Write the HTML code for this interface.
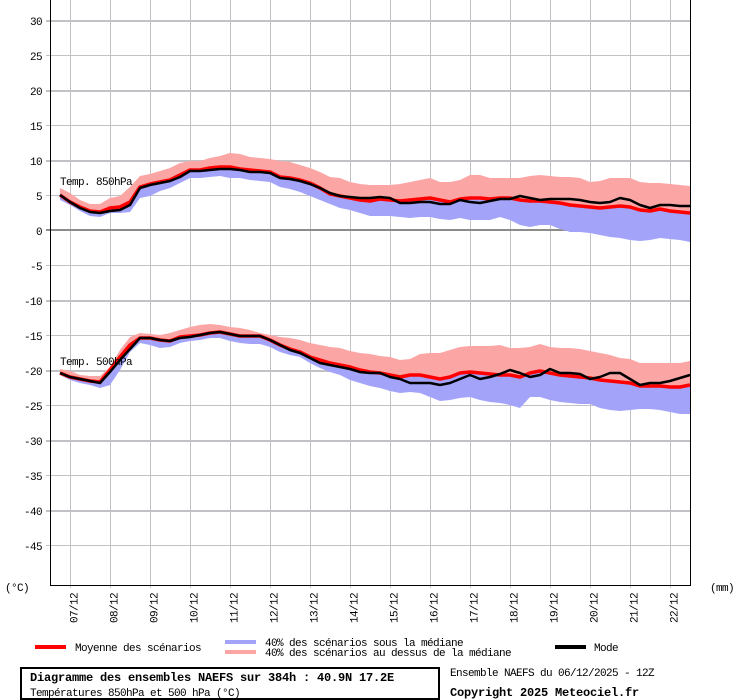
<!DOCTYPE html>
<html><head><meta charset="utf-8"><style>
html,body{margin:0;padding:0;background:#fff;}
svg{display:block;}
text{font-family:"Liberation Mono","DejaVu Sans Mono",monospace;font-size:11px;letter-spacing:-0.6px;fill:#000;}
.b{font-weight:bold;font-size:12px;letter-spacing:-0.2px;}
</style></head><body>
<svg width="740" height="700" viewBox="0 0 740 700" xmlns="http://www.w3.org/2000/svg">
<rect x="0" y="0" width="740" height="700" fill="#fff"/>
<g shape-rendering="crispEdges" fill="#c3c1c6">
<!-- vertical grid -->
<rect x="70" y="0" width="1" height="588"/><rect x="110" y="0" width="1" height="588"/><rect x="150" y="0" width="1" height="588"/><rect x="190" y="0" width="1" height="588"/>
<rect x="230" y="0" width="1" height="588"/><rect x="270" y="0" width="1" height="588"/><rect x="310" y="0" width="1" height="588"/><rect x="350" y="0" width="1" height="588"/>
<rect x="390" y="0" width="1" height="588"/><rect x="430" y="0" width="1" height="588"/><rect x="470" y="0" width="1" height="588"/><rect x="510" y="0" width="1" height="588"/>
<rect x="550" y="0" width="1" height="588"/><rect x="590" y="0" width="1" height="588"/><rect x="630" y="0" width="1" height="588"/><rect x="670" y="0" width="1" height="588"/>
<!-- horizontal grid: thick at multiples of 10 -->
<rect x="46" y="20" width="644" height="2"/><rect x="46" y="90" width="644" height="2"/><rect x="46" y="160" width="644" height="2"/>
<rect x="46" y="300" width="644" height="2"/><rect x="46" y="370" width="644" height="2"/><rect x="46" y="440" width="644" height="2"/><rect x="46" y="510" width="644" height="2"/>
<!-- thin -->
<rect x="46" y="55" width="644" height="1"/><rect x="46" y="125" width="644" height="1"/><rect x="46" y="195" width="644" height="1"/><rect x="46" y="265" width="644" height="1"/>
<rect x="46" y="335" width="644" height="1"/><rect x="46" y="405" width="644" height="1"/><rect x="46" y="475" width="644" height="1"/><rect x="46" y="545" width="644" height="1"/>
</g>
<rect x="46" y="229" width="644" height="2" fill="#8c8c8c" shape-rendering="crispEdges"/>

<!-- 850 hPa bands -->
<polygon fill="#fca5a5" points="60,188 70,193 80,200 90,204 100,204 110,198 120,196 130,187 140,176 150,174 160,171 170,168 180,163 190,161 200,161 210,158 220,156 230,153 240,154 250,157 260,158 270,159 280,161 290,162 300,165 310,168 320,172 330,177 340,178 350,182 360,184 370,185 380,185 390,185 400,184 410,182 420,180 430,178 440,182 450,182 460,180 470,175 480,175 490,178 500,178 510,178 520,178 530,176 540,175 550,176 560,177 570,177 580,178 590,182 600,181 610,178 620,178 630,178 640,182 650,183 660,183 670,184 680,185 690,186 690,213 680,212 670,211 660,209 650,211 640,210 630,207 620,206 610,207 600,208 590,207 580,206 570,205 560,203 550,202 540,201 530,201 520,200 510,198 500,198 490,199 480,198 470,198 460,199 450,202 440,200 430,198 420,199 410,200 400,201 390,200 380,199 370,201 360,200 350,198 340,196 330,194 320,188 310,183 300,180 290,178 280,177 270,172 260,171 250,170 240,169 230,167 220,167 210,168 200,170 190,170 180,175 170,180 160,182 150,184 140,187 130,202 120,207 110,208 100,212 90,211 80,207 70,202 60,195"/>
<polygon fill="#a3a3fa" points="60,195 70,202 80,207 90,211 100,212 110,208 120,207 130,202 140,187 150,184 160,182 170,180 180,175 190,170 200,170 210,168 220,167 230,167 240,169 250,170 260,171 270,172 280,177 290,178 300,180 310,183 320,188 330,194 340,196 350,198 360,200 370,201 380,199 390,200 400,201 410,200 420,199 430,198 440,200 450,202 460,199 470,198 480,198 490,199 500,198 510,198 520,200 530,201 540,201 550,202 560,203 570,205 580,206 590,207 600,208 610,207 620,206 630,207 640,210 650,211 660,209 670,211 680,212 690,213 690,242 680,240 670,239 660,238 650,240 640,241 630,240 620,238 610,237 600,235 590,233 580,232 570,232 560,229 550,225 540,225 530,227 520,225 510,220 500,217 490,220 480,220 470,220 460,218 450,220 440,219 430,217 420,217 410,218 400,217 390,216 380,216 370,216 360,213 350,210 340,208 330,204 320,200 310,196 300,192 290,189 280,187 270,182 260,181 250,180 240,178 230,178 220,176 210,177 200,178 190,178 180,183 170,188 160,191 150,196 140,198 130,212 120,213 110,213 100,217 90,216 80,211 70,205 60,200"/>

<!-- 500 hPa bands -->
<polygon fill="#fca5a5" points="60,369 70,371 80,375 90,376 100,376 110,367 120,350 130,337 140,333 150,334 160,335 170,333 180,330 190,327 200,325 210,324 220,325 230,327 240,328 250,330 260,333 270,335 280,337 290,338 300,340 310,343 320,345 330,347 340,348 350,351 360,353 370,354 380,356 390,357 400,360 410,359 420,354 430,353 440,353 450,350 460,347 470,346 480,346 490,346 500,345 510,348 520,348 530,347 540,344 550,347 560,348 570,348 580,349 590,351 600,353 610,355 620,358 630,359 640,363 650,363 660,363 670,363 680,363 690,361 690,385 680,387 670,387 660,386 650,386 640,386 630,383 620,382 610,381 600,380 590,378 580,377 570,376 560,375 550,373 540,371 530,373 520,377 510,375 500,375 490,374 480,373 470,372 460,373 450,377 440,379 430,377 420,375 410,375 400,377 390,375 380,373 370,372 360,370 350,367 340,365 330,363 320,360 310,357 300,352 290,349 280,345 270,340 260,336 250,336 240,336 230,334 220,332 210,333 200,335 190,336 180,337 170,341 160,340 150,338 140,338 130,345 120,357 110,370 100,382 90,381 80,379 70,377 60,373"/>
<polygon fill="#a3a3fa" points="60,373 70,377 80,379 90,381 100,382 110,370 120,357 130,345 140,338 150,338 160,340 170,341 180,337 190,336 200,335 210,333 220,332 230,334 240,336 250,336 260,336 270,340 280,345 290,349 300,352 310,357 320,360 330,363 340,365 350,367 360,370 370,372 380,373 390,375 400,377 410,375 420,375 430,377 440,379 450,377 460,373 470,372 480,373 490,374 500,375 510,375 520,377 530,373 540,371 550,373 560,375 570,376 580,377 590,378 600,380 610,381 620,382 630,383 640,386 650,386 660,386 670,387 680,387 690,385 690,414 680,414 670,412 660,410 650,409 640,409 630,410 620,411 610,410 600,408 590,404 580,404 570,403 560,402 550,400 540,397 530,397 520,408 510,405 500,403 490,402 480,400 470,397 460,398 450,400 440,401 430,397 420,393 410,392 400,393 390,391 380,388 370,386 360,383 350,380 340,375 330,372 320,368 310,363 300,357 290,355 280,352 270,347 260,344 250,344 240,343 230,341 220,338 210,338 200,340 190,341 180,343 170,347 160,348 150,345 140,343 130,352 120,370 110,385 100,388 90,385 80,383 70,380 60,375"/>

<!-- mean lines -->
<polyline fill="none" stroke="#ff0000" stroke-width="3.5" stroke-linejoin="round" points="60,195 70,202 80,207 90,211 100,212 110,208 120,207 130,202 140,187 150,184 160,182 170,180 180,175 190,170 200,170 210,168 220,167 230,167 240,169 250,170 260,171 270,172 280,177 290,178 300,180 310,183 320,188 330,194 340,196 350,198 360,200 370,201 380,199 390,200 400,201 410,200 420,199 430,198 440,200 450,202 460,199 470,198 480,198 490,199 500,198 510,198 520,200 530,201 540,201 550,202 560,203 570,205 580,206 590,207 600,208 610,207 620,206 630,207 640,210 650,211 660,209 670,211 680,212 690,213"/>
<polyline fill="none" stroke="#ff0000" stroke-width="3.5" stroke-linejoin="round" points="60,373 70,377 80,379 90,381 100,382 110,370 120,357 130,345 140,338 150,338 160,340 170,341 180,337 190,336 200,335 210,333 220,332 230,334 240,336 250,336 260,336 270,340 280,345 290,349 300,352 310,357 320,360 330,363 340,365 350,367 360,370 370,372 380,373 390,375 400,377 410,375 420,375 430,377 440,379 450,377 460,373 470,372 480,373 490,374 500,375 510,375 520,377 530,373 540,371 550,373 560,375 570,376 580,377 590,378 600,380 610,381 620,382 630,383 640,386 650,386 660,386 670,387 680,387 690,385"/>
<!-- mode lines -->
<polyline fill="none" stroke="#000" stroke-width="2.5" stroke-linejoin="round" points="60,195 70,202 80,208 90,212 100,213 110,211 120,210 130,205 140,188 150,185 160,183 170,181 180,177 190,171 200,171 210,170 220,169 230,169 240,170 250,172 260,172 270,173 280,178 290,179 300,181 310,184 320,188 330,193 340,196 350,197 360,198 370,198 380,197 390,198 400,203 410,203 420,202 430,202 440,204 450,204 460,200 470,202 480,203 490,201 500,199 510,199 520,196 530,198 540,200 550,199 560,199 570,199 580,200 590,202 600,203 610,202 620,198 630,200 640,205 650,208 660,205 670,205 680,206 690,206"/>
<polyline fill="none" stroke="#000" stroke-width="2.5" stroke-linejoin="round" points="60,373 70,377 80,379 90,381 100,383 110,372 120,360 130,349 140,338 150,338 160,340 170,341 180,338 190,337 200,335 210,333 220,332 230,334 240,336 250,336 260,336 270,340 280,345 290,350 300,353 310,358 320,363 330,365 340,367 350,369 360,372 370,373 380,373 390,377 400,379 410,383 420,383 430,383 440,385 450,383 460,379 470,375 480,379 490,377 500,374 510,370 520,373 530,377 540,375 550,369 560,373 570,373 580,374 590,379 600,377 610,373 620,373 630,379 640,385 650,383 660,383 670,381 680,378 690,375"/>

<!-- axes -->
<g shape-rendering="crispEdges" fill="#000">
<rect x="50" y="0" width="1" height="586"/>
<rect x="690" y="0" width="1" height="586"/>
<rect x="50" y="585" width="641" height="1"/>
</g>

<!-- series labels -->
<text x="60" y="185">Temp. 850hPa</text>
<text x="60" y="365">Temp. 500hPa</text>

<!-- y labels -->
<g text-anchor="end">
<text x="42" y="25">30</text><text x="42" y="60">25</text><text x="42" y="95">20</text><text x="42" y="130">15</text>
<text x="42" y="165">10</text><text x="42" y="200">5</text><text x="42" y="235">0</text><text x="42" y="270">-5</text>
<text x="42" y="305">-10</text><text x="42" y="340">-15</text><text x="42" y="375">-20</text><text x="42" y="410">-25</text>
<text x="42" y="445">-30</text><text x="42" y="480">-35</text><text x="42" y="515">-40</text><text x="42" y="550">-45</text>
</g>
<text x="5" y="591">(°C)</text>
<text x="710" y="591">(mm)</text>

<!-- date labels -->
<g>
<text transform="translate(77.5,623) rotate(-90)">07/12</text>
<text transform="translate(117.5,623) rotate(-90)">08/12</text>
<text transform="translate(157.5,623) rotate(-90)">09/12</text>
<text transform="translate(197.5,623) rotate(-90)">10/12</text>
<text transform="translate(237.5,623) rotate(-90)">11/12</text>
<text transform="translate(277.5,623) rotate(-90)">12/12</text>
<text transform="translate(317.5,623) rotate(-90)">13/12</text>
<text transform="translate(357.5,623) rotate(-90)">14/12</text>
<text transform="translate(397.5,623) rotate(-90)">15/12</text>
<text transform="translate(437.5,623) rotate(-90)">16/12</text>
<text transform="translate(477.5,623) rotate(-90)">17/12</text>
<text transform="translate(517.5,623) rotate(-90)">18/12</text>
<text transform="translate(557.5,623) rotate(-90)">19/12</text>
<text transform="translate(597.5,623) rotate(-90)">20/12</text>
<text transform="translate(637.5,623) rotate(-90)">21/12</text>
<text transform="translate(677.5,623) rotate(-90)">22/12</text>
</g>

<!-- legend -->
<g shape-rendering="crispEdges">
<rect x="35" y="645" width="31" height="4" fill="#ff0000"/>
<rect x="225" y="640" width="31" height="4" fill="#a3a3fa"/>
<rect x="225" y="650" width="31" height="4" fill="#fca5a5"/>
<rect x="555" y="645" width="31" height="4" fill="#000"/>
</g>
<text x="75" y="651">Moyenne des scénarios</text>
<text x="265" y="646">40% des scénarios sous la médiane</text>
<text x="265" y="656">40% des scénarios au dessus de la médiane</text>
<text x="594" y="651">Mode</text>

<!-- info box -->
<rect x="21" y="668" width="418" height="31" fill="none" stroke="#000" stroke-width="2"/>
<text class="b" x="30" y="681">Diagramme des ensembles NAEFS sur 384h : 40.9N 17.2E</text>
<text x="30" y="696">Températures 850hPa et 500 hPa (°C)</text>
<text x="450" y="676">Ensemble NAEFS du 06/12/2025 - 12Z</text>
<text class="b" x="450" y="696">Copyright 2025 Meteociel.fr</text>
</svg>
</body></html>
